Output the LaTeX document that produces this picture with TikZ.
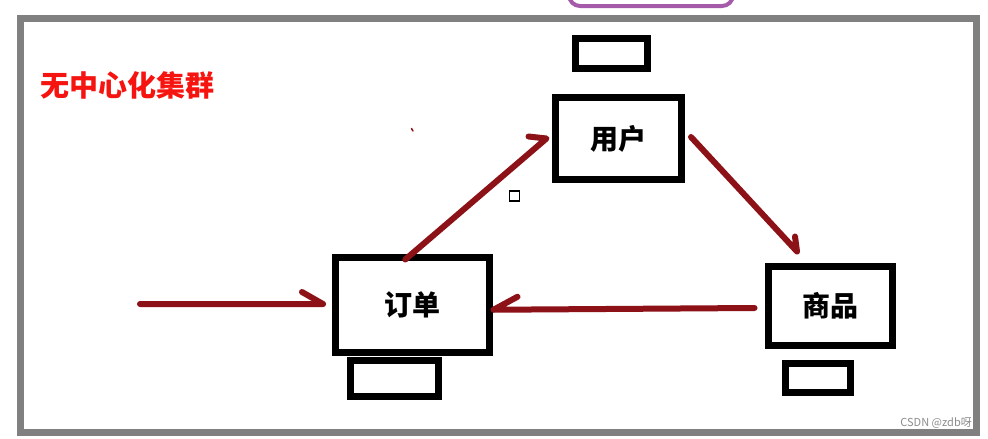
\documentclass[tikz,border=0pt]{standalone}
\usepackage{fontspec}
\newfontfamily\cjk{Noto Sans CJK SC}
\usetikzlibrary{calc}
\definecolor{framegray}{RGB}{128,128,128}
\definecolor{arrowred}{RGB}{140,18,24}
\definecolor{lilac}{RGB}{165,90,170}
\definecolor{titlered}{RGB}{245,20,15}
\definecolor{wmgray}{RGB}{140,140,140}
\tikzset{
  server/.style={draw=black, line width=7pt, inner sep=0pt, fill=white,
     font=\cjk\bfseries\fontsize{28}{30}\selectfont},
  pad/.style={draw=black, line width=7pt, inner sep=0pt},
  flow/.style={draw=arrowred, line width=6pt, line cap=round, line join=round},
}
\begin{document}
\begin{tikzpicture}[x=1pt,y=-1pt]
\useasboundingbox (0,0) rectangle (988,439);
\fill[white] (0,0) rectangle (988,439);
% purple rounded shape cut by the top edge
\begin{scope}
  \clip (0,0) rectangle (988,439);
  \draw[lilac, line width=4pt, rounded corners=11pt] (569,-40) rectangle (733,6);
\end{scope}
% outer frame
\draw[framegray, line width=7pt] (20.5,18.5) rectangle (976.5,432.5);
% title
\node[text=titlered, font=\cjk\bfseries\fontsize{29}{31}\selectfont, inner sep=0pt] (title) at (127,85) {无中心化集群};
% servers
\node[server, minimum width=126pt, minimum height=82pt] (user) at (618.5,138.5) {用户};
\node[server, minimum width=153.5pt, minimum height=95.5pt] (order) at (412.25,304.75) {订单};
\node[server, minimum width=124pt, minimum height=79pt] (goods) at (830,306) {商品};
% small pads
\node[pad, minimum width=72pt, minimum height=30pt] (padu) at (611.5,53.5) {};
\node[pad, minimum width=88pt, minimum height=35.5pt] (pado) at (394.5,378.25) {};
\node[pad, minimum width=65pt, minimum height=29pt] (padg) at (818,378) {};
% incoming arrow
\coordinate (in) at (140,304);
\draw[flow] (in) -- ($(order.west)+(-9,-0.75)$) -- ++(-21,-12);
% order -> user
\draw[flow] ($(order.north)+(-7,6)$) -- ($(user.west)+(-5.5,0)$) -- ++(-18,-2);
% user -> goods
\draw[flow] ($(user.east)+(6,-1.5)$) -- ($(goods.north)+(-33,-11.5)$) -- ++(-2,-15);
% goods -> order
\draw[flow] ($(goods.west)+(-10,2)$) -- ($(order.east)+(1,5)$) -- ++(24,-13);
% small square and speck
\node[draw=black, line width=1.2pt, minimum size=10pt, inner sep=0pt] (sq) at (514.5,196) {};
\draw[arrowred, line width=1.5pt, line cap=round] (411.5,128.5) -- (413,131);
% watermark
\node[text=wmgray, font=\cjk\fontsize{11}{12}\selectfont, anchor=east, inner sep=0pt] (wm) at (972,423) {CSDN @zdb呀};
\end{tikzpicture}
\end{document}
